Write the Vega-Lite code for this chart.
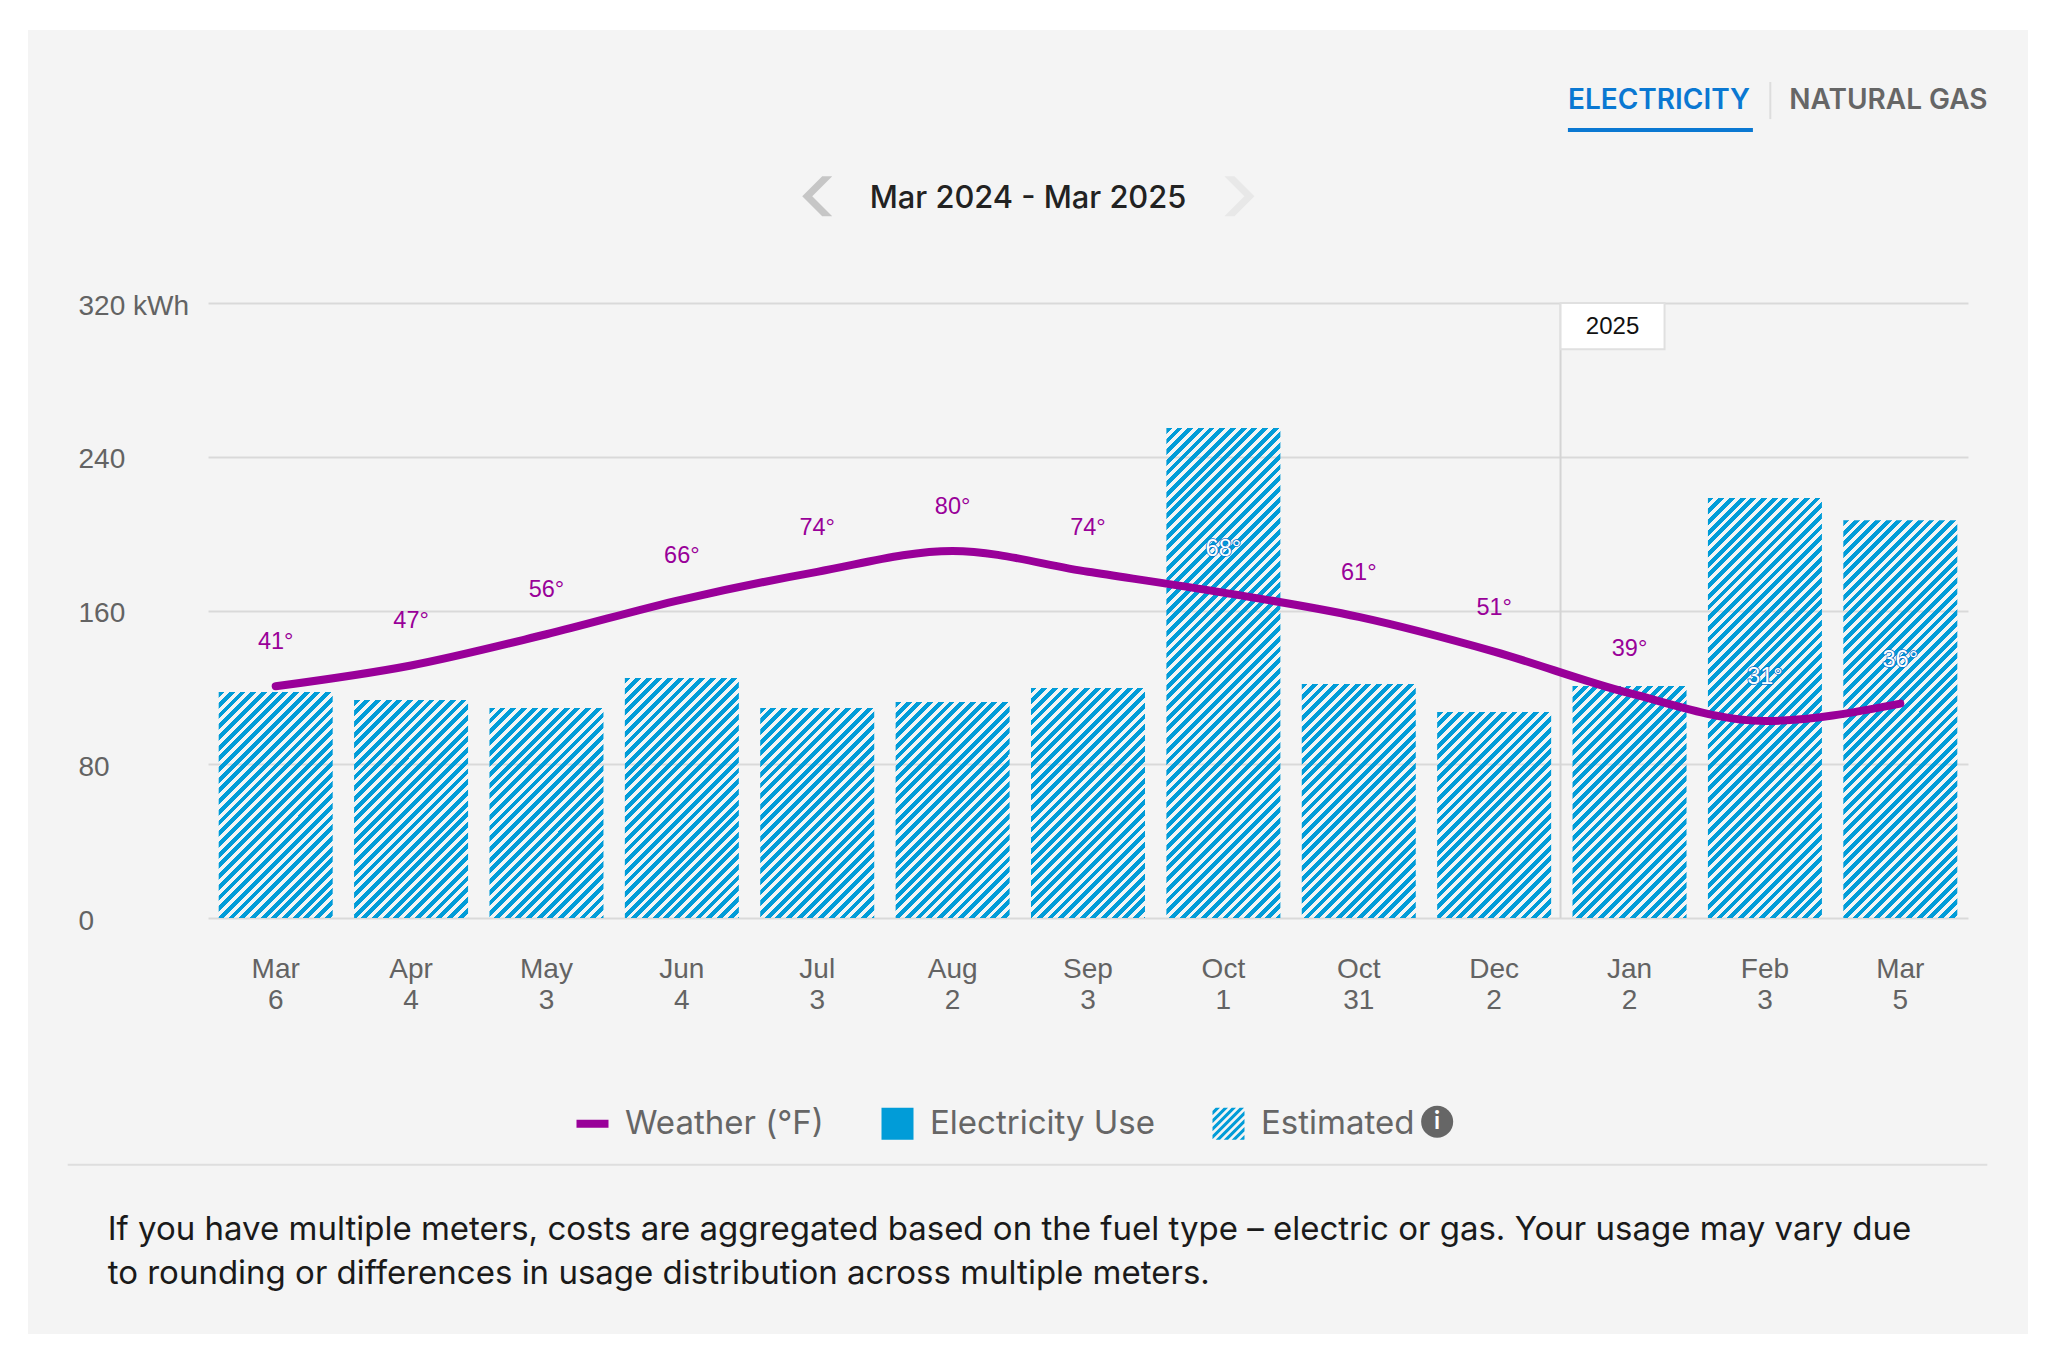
{
  "$schema": "https://vega.github.io/schema/vega-lite/v6.json",
  "width": 2000,
  "height": 1304,
  "autosize": {"type": "none"},
  "padding": {"left": 28, "top": 30, "right": 24, "bottom": 20},
  "background": "white",
  "view": {"fill": "#f4f4f4", "stroke": null},
  "title": {"text": "Mar 2024 - Mar 2025", "anchor": "middle", "frame": "group", "offset": -185, "font": "Inter", "fontSize": 30.8, "fontWeight": 500, "color": "#222222"},
  "params": [
    {"name": "hatchStops", "value": [
      {"offset":0,"color":"#019cd8"},{"offset":0.0092,"color":"#019cd8"},{"offset":0.0092,"color":"#0000"},{"offset":0.0167,"color":"#0000"},
      {"offset":0.0167,"color":"#019cd8"},{"offset":0.0258,"color":"#019cd8"},{"offset":0.0258,"color":"#0000"},{"offset":0.0333,"color":"#0000"},
      {"offset":0.0333,"color":"#019cd8"},{"offset":0.0425,"color":"#019cd8"},{"offset":0.0425,"color":"#0000"},{"offset":0.05,"color":"#0000"},
      {"offset":0.05,"color":"#019cd8"},{"offset":0.0592,"color":"#019cd8"},{"offset":0.0592,"color":"#0000"},{"offset":0.0667,"color":"#0000"},
      {"offset":0.0667,"color":"#019cd8"},{"offset":0.0758,"color":"#019cd8"},{"offset":0.0758,"color":"#0000"},{"offset":0.0833,"color":"#0000"},
      {"offset":0.0833,"color":"#019cd8"},{"offset":0.0925,"color":"#019cd8"},{"offset":0.0925,"color":"#0000"},{"offset":0.1,"color":"#0000"},
      {"offset":0.1,"color":"#019cd8"},{"offset":0.1092,"color":"#019cd8"},{"offset":0.1092,"color":"#0000"},{"offset":0.1167,"color":"#0000"},
      {"offset":0.1167,"color":"#019cd8"},{"offset":0.1258,"color":"#019cd8"},{"offset":0.1258,"color":"#0000"},{"offset":0.1333,"color":"#0000"},
      {"offset":0.1333,"color":"#019cd8"},{"offset":0.1425,"color":"#019cd8"},{"offset":0.1425,"color":"#0000"},{"offset":0.15,"color":"#0000"},
      {"offset":0.15,"color":"#019cd8"},{"offset":0.1592,"color":"#019cd8"},{"offset":0.1592,"color":"#0000"},{"offset":0.1667,"color":"#0000"},
      {"offset":0.1667,"color":"#019cd8"},{"offset":0.1758,"color":"#019cd8"},{"offset":0.1758,"color":"#0000"},{"offset":0.1833,"color":"#0000"},
      {"offset":0.1833,"color":"#019cd8"},{"offset":0.1925,"color":"#019cd8"},{"offset":0.1925,"color":"#0000"},{"offset":0.2,"color":"#0000"},
      {"offset":0.2,"color":"#019cd8"},{"offset":0.2092,"color":"#019cd8"},{"offset":0.2092,"color":"#0000"},{"offset":0.2167,"color":"#0000"},
      {"offset":0.2167,"color":"#019cd8"},{"offset":0.2258,"color":"#019cd8"},{"offset":0.2258,"color":"#0000"},{"offset":0.2333,"color":"#0000"},
      {"offset":0.2333,"color":"#019cd8"},{"offset":0.2425,"color":"#019cd8"},{"offset":0.2425,"color":"#0000"},{"offset":0.25,"color":"#0000"},
      {"offset":0.25,"color":"#019cd8"},{"offset":0.2592,"color":"#019cd8"},{"offset":0.2592,"color":"#0000"},{"offset":0.2667,"color":"#0000"},
      {"offset":0.2667,"color":"#019cd8"},{"offset":0.2758,"color":"#019cd8"},{"offset":0.2758,"color":"#0000"},{"offset":0.2833,"color":"#0000"},
      {"offset":0.2833,"color":"#019cd8"},{"offset":0.2925,"color":"#019cd8"},{"offset":0.2925,"color":"#0000"},{"offset":0.3,"color":"#0000"},
      {"offset":0.3,"color":"#019cd8"},{"offset":0.3092,"color":"#019cd8"},{"offset":0.3092,"color":"#0000"},{"offset":0.3167,"color":"#0000"},
      {"offset":0.3167,"color":"#019cd8"},{"offset":0.3258,"color":"#019cd8"},{"offset":0.3258,"color":"#0000"},{"offset":0.3333,"color":"#0000"},
      {"offset":0.3333,"color":"#019cd8"},{"offset":0.3425,"color":"#019cd8"},{"offset":0.3425,"color":"#0000"},{"offset":0.35,"color":"#0000"},
      {"offset":0.35,"color":"#019cd8"},{"offset":0.3592,"color":"#019cd8"},{"offset":0.3592,"color":"#0000"},{"offset":0.3667,"color":"#0000"},
      {"offset":0.3667,"color":"#019cd8"},{"offset":0.3758,"color":"#019cd8"},{"offset":0.3758,"color":"#0000"},{"offset":0.3833,"color":"#0000"},
      {"offset":0.3833,"color":"#019cd8"},{"offset":0.3925,"color":"#019cd8"},{"offset":0.3925,"color":"#0000"},{"offset":0.4,"color":"#0000"},
      {"offset":0.4,"color":"#019cd8"},{"offset":0.4092,"color":"#019cd8"},{"offset":0.4092,"color":"#0000"},{"offset":0.4167,"color":"#0000"},
      {"offset":0.4167,"color":"#019cd8"},{"offset":0.4258,"color":"#019cd8"},{"offset":0.4258,"color":"#0000"},{"offset":0.4333,"color":"#0000"},
      {"offset":0.4333,"color":"#019cd8"},{"offset":0.4425,"color":"#019cd8"},{"offset":0.4425,"color":"#0000"},{"offset":0.45,"color":"#0000"},
      {"offset":0.45,"color":"#019cd8"},{"offset":0.4592,"color":"#019cd8"},{"offset":0.4592,"color":"#0000"},{"offset":0.4667,"color":"#0000"},
      {"offset":0.4667,"color":"#019cd8"},{"offset":0.4758,"color":"#019cd8"},{"offset":0.4758,"color":"#0000"},{"offset":0.4833,"color":"#0000"},
      {"offset":0.4833,"color":"#019cd8"},{"offset":0.4925,"color":"#019cd8"},{"offset":0.4925,"color":"#0000"},{"offset":0.5,"color":"#0000"},
      {"offset":0.5,"color":"#019cd8"},{"offset":0.5092,"color":"#019cd8"},{"offset":0.5092,"color":"#0000"},{"offset":0.5167,"color":"#0000"},
      {"offset":0.5167,"color":"#019cd8"},{"offset":0.5258,"color":"#019cd8"},{"offset":0.5258,"color":"#0000"},{"offset":0.5333,"color":"#0000"},
      {"offset":0.5333,"color":"#019cd8"},{"offset":0.5425,"color":"#019cd8"},{"offset":0.5425,"color":"#0000"},{"offset":0.55,"color":"#0000"},
      {"offset":0.55,"color":"#019cd8"},{"offset":0.5592,"color":"#019cd8"},{"offset":0.5592,"color":"#0000"},{"offset":0.5667,"color":"#0000"},
      {"offset":0.5667,"color":"#019cd8"},{"offset":0.5758,"color":"#019cd8"},{"offset":0.5758,"color":"#0000"},{"offset":0.5833,"color":"#0000"},
      {"offset":0.5833,"color":"#019cd8"},{"offset":0.5925,"color":"#019cd8"},{"offset":0.5925,"color":"#0000"},{"offset":0.6,"color":"#0000"},
      {"offset":0.6,"color":"#019cd8"},{"offset":0.6092,"color":"#019cd8"},{"offset":0.6092,"color":"#0000"},{"offset":0.6167,"color":"#0000"},
      {"offset":0.6167,"color":"#019cd8"},{"offset":0.6258,"color":"#019cd8"},{"offset":0.6258,"color":"#0000"},{"offset":0.6333,"color":"#0000"},
      {"offset":0.6333,"color":"#019cd8"},{"offset":0.6425,"color":"#019cd8"},{"offset":0.6425,"color":"#0000"},{"offset":0.65,"color":"#0000"},
      {"offset":0.65,"color":"#019cd8"},{"offset":0.6592,"color":"#019cd8"},{"offset":0.6592,"color":"#0000"},{"offset":0.6667,"color":"#0000"},
      {"offset":0.6667,"color":"#019cd8"},{"offset":0.6758,"color":"#019cd8"},{"offset":0.6758,"color":"#0000"},{"offset":0.6833,"color":"#0000"},
      {"offset":0.6833,"color":"#019cd8"},{"offset":0.6925,"color":"#019cd8"},{"offset":0.6925,"color":"#0000"},{"offset":0.7,"color":"#0000"},
      {"offset":0.7,"color":"#019cd8"},{"offset":0.7092,"color":"#019cd8"},{"offset":0.7092,"color":"#0000"},{"offset":0.7167,"color":"#0000"},
      {"offset":0.7167,"color":"#019cd8"},{"offset":0.7258,"color":"#019cd8"},{"offset":0.7258,"color":"#0000"},{"offset":0.7333,"color":"#0000"},
      {"offset":0.7333,"color":"#019cd8"},{"offset":0.7425,"color":"#019cd8"},{"offset":0.7425,"color":"#0000"},{"offset":0.75,"color":"#0000"},
      {"offset":0.75,"color":"#019cd8"},{"offset":0.7592,"color":"#019cd8"},{"offset":0.7592,"color":"#0000"},{"offset":0.7667,"color":"#0000"},
      {"offset":0.7667,"color":"#019cd8"},{"offset":0.7758,"color":"#019cd8"},{"offset":0.7758,"color":"#0000"},{"offset":0.7833,"color":"#0000"},
      {"offset":0.7833,"color":"#019cd8"},{"offset":0.7925,"color":"#019cd8"},{"offset":0.7925,"color":"#0000"},{"offset":0.8,"color":"#0000"},
      {"offset":0.8,"color":"#019cd8"},{"offset":0.8092,"color":"#019cd8"},{"offset":0.8092,"color":"#0000"},{"offset":0.8167,"color":"#0000"},
      {"offset":0.8167,"color":"#019cd8"},{"offset":0.8258,"color":"#019cd8"},{"offset":0.8258,"color":"#0000"},{"offset":0.8333,"color":"#0000"},
      {"offset":0.8333,"color":"#019cd8"},{"offset":0.8425,"color":"#019cd8"},{"offset":0.8425,"color":"#0000"},{"offset":0.85,"color":"#0000"},
      {"offset":0.85,"color":"#019cd8"},{"offset":0.8592,"color":"#019cd8"},{"offset":0.8592,"color":"#0000"},{"offset":0.8667,"color":"#0000"},
      {"offset":0.8667,"color":"#019cd8"},{"offset":0.8758,"color":"#019cd8"},{"offset":0.8758,"color":"#0000"},{"offset":0.8833,"color":"#0000"},
      {"offset":0.8833,"color":"#019cd8"},{"offset":0.8925,"color":"#019cd8"},{"offset":0.8925,"color":"#0000"},{"offset":0.9,"color":"#0000"},
      {"offset":0.9,"color":"#019cd8"},{"offset":0.9092,"color":"#019cd8"},{"offset":0.9092,"color":"#0000"},{"offset":0.9167,"color":"#0000"},
      {"offset":0.9167,"color":"#019cd8"},{"offset":0.9258,"color":"#019cd8"},{"offset":0.9258,"color":"#0000"},{"offset":0.9333,"color":"#0000"},
      {"offset":0.9333,"color":"#019cd8"},{"offset":0.9425,"color":"#019cd8"},{"offset":0.9425,"color":"#0000"},{"offset":0.95,"color":"#0000"},
      {"offset":0.95,"color":"#019cd8"},{"offset":0.9592,"color":"#019cd8"},{"offset":0.9592,"color":"#0000"},{"offset":0.9667,"color":"#0000"},
      {"offset":0.9667,"color":"#019cd8"},{"offset":0.9758,"color":"#019cd8"},{"offset":0.9758,"color":"#0000"},{"offset":0.9833,"color":"#0000"},
      {"offset":0.9833,"color":"#019cd8"},{"offset":0.9925,"color":"#019cd8"},{"offset":0.9925,"color":"#0000"},{"offset":1,"color":"#0000"}
    ]}
  ],
  "datasets": {
    "bills": [
      {"read": "Mar 6", "usage": 117.6, "temp": 41, "tempLabel": "41°"},
      {"read": "Apr 4", "usage": 113.4, "temp": 47, "tempLabel": "47°"},
      {"read": "May 3", "usage": 109.3, "temp": 56, "tempLabel": "56°"},
      {"read": "Jun 4", "usage": 124.9, "temp": 66, "tempLabel": "66°"},
      {"read": "Jul 3", "usage": 109.3, "temp": 74, "tempLabel": "74°"},
      {"read": "Aug 2", "usage": 112.4, "temp": 80, "tempLabel": "80°"},
      {"read": "Sep 3", "usage": 119.7, "temp": 74, "tempLabel": "74°"},
      {"read": "Oct 1", "usage": 255, "temp": 68, "tempLabel": "68°"},
      {"read": "Oct 31", "usage": 121.8, "temp": 61, "tempLabel": "61°"},
      {"read": "Dec 2", "usage": 107.2, "temp": 51, "tempLabel": "51°"},
      {"read": "Jan 2", "usage": 120.7, "temp": 39, "tempLabel": "39°"},
      {"read": "Feb 3", "usage": 218.5, "temp": 31, "tempLabel": "31°"},
      {"read": "Mar 5", "usage": 207, "temp": 36, "tempLabel": "36°"}
    ]
  },
  "resolve": {"scale": {"y": "independent"}},
  "layer": [
    {
      "layer": [
        {
          "data": {"name": "bills"},
          "mark": {"type": "bar"},
          "encoding": {
            "x": {
              "field": "read",
              "type": "nominal",
              "sort": null,
              "title": null,
              "scale": {
                "domain": ["Mar 6", "Apr 4", "May 3", "Jun 4", "Jul 3", "Aug 2", "Sep 3", "Oct 1", "Oct 31", "Dec 2", "Jan 2", "Feb 3", "Mar 5"],
                "range": [180, 1940],
                "paddingInner": 0.158,
                "paddingOuter": 0.079
              },
              "axis": {
                "domain": false,
                "ticks": false,
                "labelAngle": 0,
                "labelFont": "Liberation Sans",
                "labelFontSize": 28,
                "labelColor": "#636363",
                "labelPadding": -379,
                "labelBaseline": "top",
                "labelLineHeight": 31,
                "labelOverlap": false,
                "labelBound": false,
                "labelFlush": false,
                "labelExpr": "split(datum.label, ' ')"
              }
            },
            "y": {
              "field": "usage",
              "type": "quantitative",
              "title": null,
              "scale": {"domain": [0, 320], "range": [888, 273], "nice": false},
              "axis": {
                "values": [0, 80, 160, 240, 320],
                "domain": false,
                "ticks": false,
                "gridColor": "#d9d9d9",
                "gridWidth": 2,
                "labelFont": "Liberation Sans",
                "labelFontSize": 28,
                "labelColor": "#636363",
                "labelAlign": "left",
                "labelPadding": -50,
                "labelOffset": 3,
                "labelBound": false,
                "labelFlush": false,
                "labelOverlap": false,
                "labelExpr": "datum.value == 320 ? '320 kWh' : datum.label"
              }
            },
            "fill": {"value": {"expr": "{gradient: 'linear', x1: 0, y1: 0, x2: 642 * 114 / (114 * 114 + pow(datum.usage * 1.921875, 2)), y2: 642 * datum.usage * 1.921875 / (114 * 114 + pow(datum.usage * 1.921875, 2)), stops: hatchStops}"}}
          }
        },
        {
          "data": {"values": [{"year": "2025"}]},
          "mark": {"type": "rule", "color": "#d4d4d4", "strokeWidth": 2, "xOffset": -69},
          "encoding": {
            "x": {"datum": "Jan 2", "type": "nominal"},
            "y": {"datum": 0, "type": "quantitative"},
            "y2": {"datum": 320}
          }
        },
        {
          "data": {"values": [{"year": "2025"}]},
          "mark": {"type": "rect", "fill": "white", "stroke": "#e0e0e0", "strokeWidth": 2, "width": 104, "xOffset": -17},
          "encoding": {
            "x": {"datum": "Jan 2", "type": "nominal"},
            "y": {"datum": 320, "type": "quantitative"},
            "y2": {"datum": 296}
          }
        },
        {
          "data": {"values": [{"year": "2025"}]},
          "mark": {"type": "text", "font": "Liberation Sans", "fontSize": 24, "color": "#111111", "dx": -17, "baseline": "middle"},
          "encoding": {
            "x": {"datum": "Jan 2", "type": "nominal"},
            "y": {"datum": 307.5, "type": "quantitative"},
            "text": {"field": "year"}
          }
        },
        {
          "data": {"values": [{"tab": "ELECTRICITY"}]},
          "mark": {"type": "text", "font": "Inter", "fontSize": 28, "fontWeight": 600, "color": "#0a78d2", "align": "left", "baseline": "middle", "dx": -197},
          "encoding": {
            "x": {"datum": "Feb 3", "type": "nominal"},
            "y": {"datum": 425, "type": "quantitative"},
            "text": {"field": "tab"}
          }
        },
        {
          "data": {"values": [{"tab": "ELECTRICITY"}]},
          "mark": {"type": "rule", "color": "#0a78d2", "strokeWidth": 4, "xOffset": -197, "x2Offset": -12},
          "encoding": {
            "x": {"datum": "Feb 3", "type": "nominal"},
            "x2": {"datum": "Feb 3"},
            "y": {"datum": 410, "type": "quantitative"}
          }
        },
        {
          "data": {"values": [{"tab": "NATURAL GAS"}]},
          "mark": {"type": "text", "font": "Inter", "fontSize": 28, "fontWeight": 600, "color": "#666666", "align": "left", "baseline": "middle", "dx": -111},
          "encoding": {
            "x": {"datum": "Mar 5", "type": "nominal"},
            "y": {"datum": 425, "type": "quantitative"},
            "text": {"field": "tab"}
          }
        },
        {
          "data": {"values": [{"tab": "divider"}]},
          "mark": {"type": "rule", "color": "#dddddd", "strokeWidth": 2, "xOffset": -130},
          "encoding": {
            "x": {"datum": "Mar 5", "type": "nominal"},
            "y": {"datum": 435, "type": "quantitative"},
            "y2": {"datum": 415.7}
          }
        },
        {
          "data": {"values": [{"dir": "prev"}]},
          "mark": {"type": "point", "shape": "M.75,-1L.25,-1L-.75,0L.25,1L.75,1L-.25,0Z", "filled": true, "color": "#c6c6c6", "size": 1600, "opacity": 1},
          "encoding": {
            "x": {"datum": "Jul 3", "type": "nominal"},
            "y": {"datum": 375.6, "type": "quantitative"}
          }
        },
        {
          "data": {"values": [{"dir": "next"}]},
          "mark": {"type": "point", "shape": "M-.75,-1L-.25,-1L.75,0L-.25,1L-.75,1L.25,0Z", "filled": true, "color": "#e8e8e8", "size": 1600, "opacity": 1, "xOffset": 16},
          "encoding": {
            "x": {"datum": "Oct 1", "type": "nominal"},
            "y": {"datum": 375.6, "type": "quantitative"}
          }
        },
        {
          "data": {"values": [{"line": "footer"}]},
          "mark": {"type": "rule", "color": "#dedede", "strokeWidth": 2, "xOffset": -208, "x2Offset": 87},
          "encoding": {
            "x": {"datum": "Mar 6", "type": "nominal"},
            "x2": {"datum": "Mar 5"},
            "y": {"datum": -128.4, "type": "quantitative"}
          }
        },
        {
          "data": {"values": [{"note": "If you have multiple meters, costs are aggregated based on the fuel type – electric or gas. Your usage may vary due\nto rounding or differences in usage distribution across multiple meters."}]},
          "mark": {"type": "text", "font": "Inter", "fontSize": 33, "color": "#1a1a1a", "align": "left", "baseline": "middle", "lineBreak": "\n", "lineHeight": 44, "dx": -168},
          "encoding": {
            "x": {"datum": "Mar 6", "type": "nominal"},
            "y": {"datum": -162.6, "type": "quantitative"},
            "text": {"field": "note"}
          }
        },
        {
          "data": {"values": [{"info": "i"}]},
          "mark": {"type": "point", "shape": "circle", "filled": true, "color": "#666666", "size": 1024, "opacity": 1, "xOffset": -57},
          "encoding": {
            "x": {"datum": "Dec 2", "type": "nominal"},
            "y": {"datum": -106, "type": "quantitative"}
          }
        },
        {
          "data": {"values": [{"info": "i"}]},
          "mark": {"type": "text", "font": "Lato", "fontSize": 24, "fontWeight": 700, "color": "white", "baseline": "middle", "dx": -57},
          "encoding": {
            "x": {"datum": "Dec 2", "type": "nominal"},
            "y": {"datum": -106, "type": "quantitative"},
            "text": {"field": "info"}
          }
        },
        {
          "data": {"values": [{"series": "Weather (°F)"}, {"series": "Electricity Use"}, {"series": "Estimated"}]},
          "transform": [{"filter": "false"}],
          "mark": {"type": "point", "filled": true, "opacity": 1},
          "encoding": {
            "color": {
              "field": "series",
              "type": "nominal",
              "scale": {"domain": ["Weather (°F)", "Electricity Use", "Estimated"], "range": ["#990099", "#019cd8", "#019cd8"]},
              "legend": {
                "title": null,
                "orient": "none",
                "legendX": 548,
                "legendY": 1077,
                "direction": "horizontal",
                "columns": 3,
                "columnPadding": 57,
                "padding": 0,
                "symbolSize": 1024,
                "symbolStrokeWidth": 0,
                "labelOffset": 16,
                "labelFont": "Inter",
                "labelFontSize": 33,
                "labelColor": "#666666",
                "labelLimit": 400
              }
            },
            "shape": {
              "field": "series",
              "type": "nominal",
              "scale": {
                "domain": ["Weather (°F)", "Electricity Use", "Estimated"],
                "range": [
                  "M-1,-0.25H1V0.25H-1Z",
                  "M-1,-1H1V1H-1Z",
                  "M-1,-.8L-.8,-1L-.53,-1L-1,-.53ZM-1,-.3L-.3,-1L-.03,-1L-1,-.03ZM-1,.2L.2,-1L.47,-1L-1,.47ZM-1,.7L.7,-1L.97,-1L-1,.97ZM-.8,1L1,-.8L1,-.53L-.53,1ZM-.3,1L1,-.3L1,-.03L-.03,1ZM.2,1L1,.2L1,.47L.47,1ZM.7,1L1,.7L1,.97L.97,1Z"
                ]
              }
            }
          }
        }
      ]
    },
    {
      "data": {"name": "bills"},
      "encoding": {
        "x": {"field": "read", "type": "nominal", "sort": null, "title": null},
        "y": {"field": "temp", "type": "quantitative", "title": null, "axis": null, "scale": {"domain": [-25.8, 151.5], "range": [888, 273], "nice": false}}
      },
      "layer": [
        {"mark": {"type": "line", "color": "#990099", "strokeWidth": 8, "strokeCap": "round", "interpolate": "monotone"}},
        {
          "transform": [{"filter": "datum.usage > 200"}],
          "mark": {"type": "text", "font": "Liberation Sans", "fontSize": 23.5, "baseline": "middle", "dy": -44, "stroke": "#0a6fc8", "strokeWidth": 1.5, "fill": "#0a6fc8"},
          "encoding": {"text": {"field": "tempLabel"}}
        },
        {
          "mark": {"type": "text", "font": "Liberation Sans", "fontSize": 23.5, "baseline": "middle", "dy": -44},
          "encoding": {
            "text": {"field": "tempLabel"},
            "color": {"condition": {"test": "datum.usage > 200", "value": "white"}, "value": "#990099"}
          }
        }
      ]
    }
  ]
}
